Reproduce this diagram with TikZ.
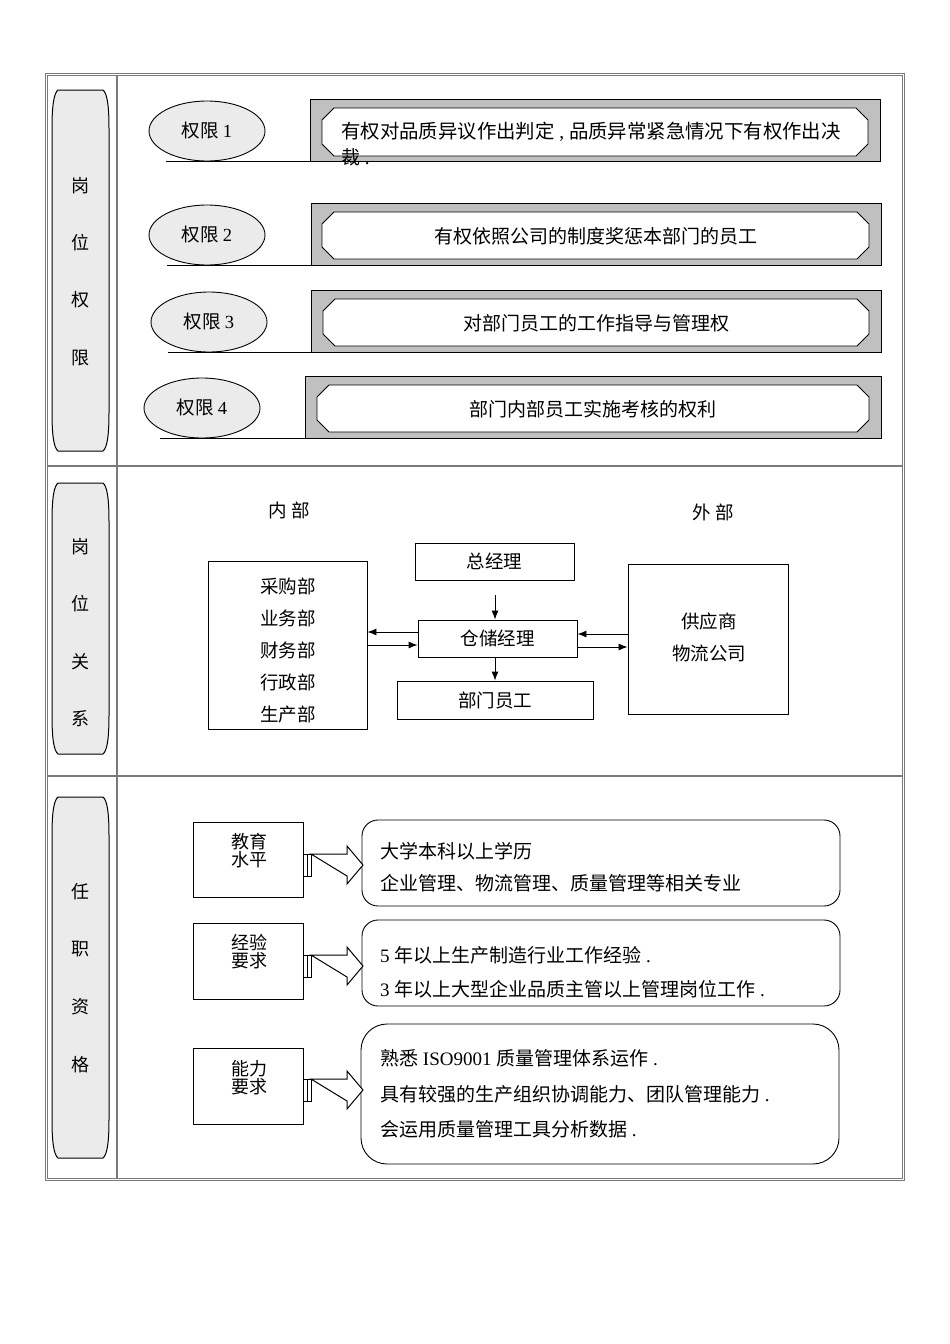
\documentclass[tikz,border=0pt]{standalone}
\usepackage{fontspec}
\setmainfont{Liberation Serif}
\newfontfamily\cjk{Noto Sans CJK SC}
\usetikzlibrary{shapes.geometric,arrows.meta}
\newcommand\lat[1]{{\rmfamily #1}}
\definecolor{lightfill}{HTML}{EBEBEB}
\definecolor{grayfill}{HTML}{C0C0C0}
\definecolor{frame}{HTML}{7A7A7A}
\newcommand\scrollshape[2]{%
  \draw[scrollsty] (58,#1) -- (103,#1) .. controls (107,#1+3) and (109,#1+15) .. (109,#1+38)
    -- (109,#2-38) .. controls (109,#2-15) and (107,#2-3) .. (103,#2)
    -- (58,#2) .. controls (54,#2-3) and (52,#2-15) .. (52,#2-38)
    -- (52,#1+38) .. controls (52,#1+15) and (54,#1+3) .. (58,#1) -- cycle;}
\newcommand\octo[4]{%
  \draw[fill=white, line width=0.9pt] (#1+12,#2) -- (#3-12,#2) -- (#3,#2+12) -- (#3,#4-12)
    -- (#3-12,#4) -- (#1+12,#4) -- (#1,#4-12) -- (#1,#2+12) -- cycle;}
\newcommand\blockarrow[1]{%
  \draw[fill=white, line width=1pt] (303.5,#1-11) rectangle (307,#1+11);
  \draw[fill=white, line width=1pt] (307,#1-11) rectangle (311,#1+11);
  \draw[fill=white, line width=1pt, line join=miter] (311,#1-11) -- (347,#1-11) -- (347,#1-19) -- (363,#1)
    -- (347,#1+19) -- (347,#1+11) -- cycle;}
\begin{document}
\begin{tikzpicture}[x=1pt,y=-1pt,
  scrollsty/.style={draw=black, fill=lightfill, line width=1pt},
  vchar/.style={font=\cjk\fontsize{18}{18}\selectfont, inner sep=0},
  perm/.style={ellipse, draw=black, fill=lightfill, line width=0.9pt, minimum width=116, minimum height=60, inner sep=0, font=\cjk\fontsize{18.5}{18.5}\selectfont},
  graybox/.style={draw=black, fill=grayfill, line width=0.9pt},
  txt/.style={font=\cjk\fontsize{19}{19}\selectfont, inner sep=0},
  txtm/.style={font=\cjk\fontsize{18.5}{18.5}\selectfont, inner sep=0},
  plainbox/.style={draw=black, line width=0.9pt, inner sep=0},
  arr/.style={-{Latex[length=9pt,width=7pt]}, line width=0.9pt},
  base/.style={line width=0.9pt}
]
\useasboundingbox (0,0) rectangle (950,1344);
\fill[white] (0,0) rectangle (950,1344);

% ---------- table frame ----------
\draw[frame, line width=1.3pt] (46,466) -- (904,466);
\draw[frame, line width=1.3pt] (46,776) -- (904,776);
\draw[frame, line width=1.3pt] (117,74) -- (117,1180);
\draw[frame, line width=0.9pt, double=white, double distance=1pt] (46.5,74.5) rectangle (903.5,1179.5);

% ---------- left column ----------
\scrollshape{90}{451}
\scrollshape{483}{754}
\scrollshape{797}{1158}
\node[vchar] (c11) at (80,186) {岗};
\node[vchar] (c12) at (80,243) {位};
\node[vchar] (c13) at (80,300) {权};
\node[vchar] (c14) at (80,358) {限};
\node[vchar] (c21) at (80,547) {岗};
\node[vchar] (c22) at (80,604) {位};
\node[vchar] (c23) at (80,662) {关};
\node[vchar] (c24) at (80,719) {系};
\node[vchar] (c31) at (80,892) {任};
\node[vchar] (c32) at (80,949) {职};
\node[vchar] (c33) at (80,1007) {资};
\node[vchar] (c34) at (80,1065) {格};

% ---------- section 1 ----------
\draw[graybox] (310,99) rectangle (880,161);
\draw[graybox] (311,203) rectangle (881,265);
\draw[graybox] (311,290) rectangle (881,352);
\draw[graybox] (305,376) rectangle (881,438);
\octo{322}{108}{868}{156}
\octo{322}{212}{869}{259}
\octo{323}{299}{869}{346}
\octo{317}{385}{869}{432}
\coordinate (g1) at (310,161);
\coordinate (g2) at (311,265);
\coordinate (g3) at (311,352);
\coordinate (g4) at (305,438);
\node[perm] (e1) at (207,131) {权限 \lat{1}};
\node[perm] (e2) at (207,235) {权限 \lat{2}};
\node[perm] (e3) at (209,322) {权限 \lat{3}};
\node[perm] (e4) at (202,408) {权限 \lat{4}};
\draw[base] (166,161) -- (g1);
\draw[base] (167,265) -- (g2);
\draw[base] (168,352) -- (g3);
\draw[base] (160,438) -- (g4);
\node[font=\cjk\fontsize{19.4}{19.4}\selectfont, inner sep=0, anchor=west] (t1a) at (341,132) {有权对品质异议作出判定\lat{ , }品质异常紧急情况下有权作出决};
\node[txt, anchor=west] (t1b) at (341,157) {裁\lat{ .}};
\node[txt] (t2) at (596,236) {有权依照公司的制度奖惩本部门的员工};
\node[txt] (t3) at (596,323) {对部门员工的工作指导与管理权};
\node[txt] (t4) at (593,409) {部门内部员工实施考核的权利};

% ---------- section 2 ----------
\node[txtm] (nb) at (289,510) {内 部};
\node[txtm] (wb) at (713,512) {外 部};
\node[plainbox, minimum width=159, minimum height=168] (lbox) at (287.5,645) {};
\node[txtm, align=center, font=\cjk\fontsize{18.5}{32}\selectfont] (ltxt) at (288,650) {采购部\\业务部\\财务部\\行政部\\生产部};
\node[plainbox, minimum width=159, minimum height=37, txtm] (zj) at (494.5,561.5) {总经理};
\node[plainbox, minimum width=159, minimum height=37, txtm] (cc) at (497.5,638.5) {仓储经理};
\node[plainbox, minimum width=196, minimum height=38, txtm] (bm) at (495,700) {部门员工};
\node[plainbox, minimum width=160, minimum height=150] (rbox) at (708,639) {};
\node[txtm, align=center, font=\cjk\fontsize{18.5}{32}\selectfont] (rtxt) at (709,637) {供应商\\物流公司};
\coordinate (a0) at (495,595);
\draw[arr] (a0) -- (a0 |- cc.north);
\draw[arr] (bm.north |- cc.south) -- (bm.north);
\draw[arr] ([yshift=6.5pt]cc.west) -- ([yshift=6.5pt]cc.west -| lbox.east);
\draw[arr] ([yshift=-6.5pt]cc.west -| lbox.east) -- ([yshift=-6.5pt]cc.west);
\draw[arr] ([yshift=4.5pt]cc.east -| rbox.west) -- ([yshift=4.5pt]cc.east);
\draw[arr] ([yshift=-8.5pt]cc.east) -- ([yshift=-8.5pt]cc.east -| rbox.west);

% ---------- section 3 ----------
\node[plainbox, minimum width=110, minimum height=75] (b1) at (248,859.5) {};
\node[plainbox, minimum width=110, minimum height=76] (b2) at (248,961) {};
\node[plainbox, minimum width=110, minimum height=76] (b3) at (248,1086) {};
\node[align=center, inner sep=0, font=\cjk\fontsize{18}{18}\selectfont] (l1) at (249,851) {教育\\水平};
\node[align=center, inner sep=0, font=\cjk\fontsize{18}{18}\selectfont] (l2) at (249,952) {经验\\要求};
\node[align=center, inner sep=0, font=\cjk\fontsize{18}{18}\selectfont] (l3) at (249,1078) {能力\\要求};
\draw[line width=0.9pt, rounded corners=16pt] (362,820) rectangle (840,906);
\draw[line width=0.9pt, rounded corners=16pt] (362,920) rectangle (840,1006);
\draw[line width=0.9pt, rounded corners=26pt] (361,1024) rectangle (839,1164);
\blockarrow{865}
\blockarrow{966}
\blockarrow{1090}
\node[txt, anchor=west] (s11) at (380,851) {大学本科以上学历};
\node[txt, anchor=west] (s12) at (380,883) {企业管理、物流管理、质量管理等相关专业};
\node[txt, anchor=west] (s21) at (380,955) {\lat{5 }年以上生产制造行业工作经验\lat{ .}};
\node[txt, anchor=west] (s22) at (380,989) {\lat{3 }年以上大型企业品质主管以上管理岗位工作\lat{ .}};
\node[txt, anchor=west] (s31) at (380,1058) {熟悉\lat{ ISO9001 }质量管理体系运作\lat{ .}};
\node[txt, anchor=west] (s32) at (380,1094) {具有较强的生产组织协调能力、团队管理能力\lat{ .}};
\node[txt, anchor=west] (s33) at (380,1129) {会运用质量管理工具分析数据\lat{ .}};
\end{tikzpicture}
\end{document}
